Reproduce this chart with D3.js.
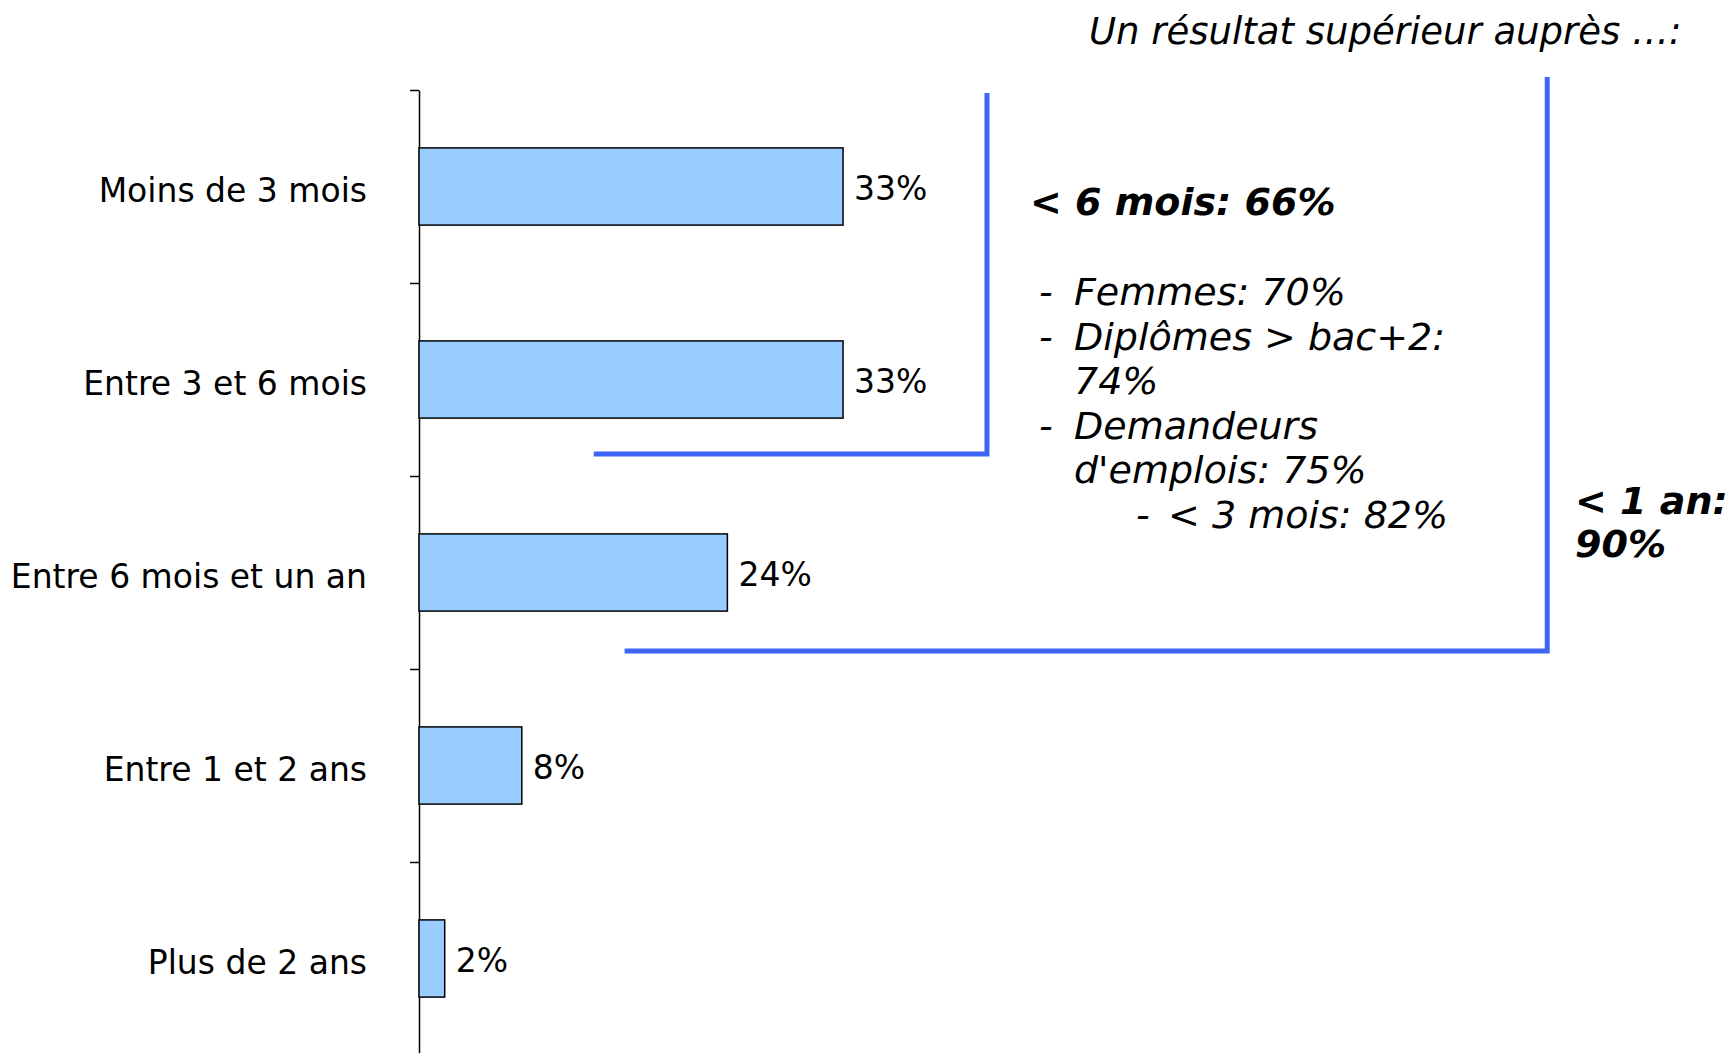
<!DOCTYPE html>
<html lang="fr">
<head>
<meta charset="utf-8">
<title>Durée</title>
<script src="https://d3js.org/d3.v7.min.js"></script>
<style>
  body { margin: 0; background: #fff; }
  svg { display: block; font-family: "DejaVu Sans", Verdana, sans-serif; }
  .lab { font-size: 33px; fill: #000; }
  .note { font-size: 38px; font-style: italic; fill: #000; }
  .head { font-size: 37px; }
  .bold { font-weight: bold; }
  .brace { stroke: #3d66f5; stroke-width: 5; fill: none; }
</style>
</head>
<body>
<script>
// data
var categories = ["Moins de 3 mois", "Entre 3 et 6 mois", "Entre 6 mois et un an", "Entre 1 et 2 ans", "Plus de 2 ans"];
var values = [33, 33, 24, 8, 2];
var valueLabels = ["33%", "33%", "24%", "8%", "2%"];

var headerText = "Un résultat supérieur auprès …:";
var sixMonthsTitle = "< 6 mois: 66%";
var sixMonthsLines = [
  {dash: "-", text: "Femmes: 70%"},
  {dash: "-", text: "Diplômes > bac+2:"},
  {dash: "", text: "74%"},
  {dash: "-", text: "Demandeurs"},
  {dash: "", text: "d'emplois: 75%"},
  {dash: "sub", text: "< 3 mois: 82%"}
];
var oneYearLines = ["< 1 an:", "90%"];

var w = 1728, h = 1053;
var axisX = 419, plotTop = 90, plotBottom = 1055;

var svg = d3.select("body").append("svg").attr("width", w).attr("height", h);
svg.append("rect").attr("width", w).attr("height", h).attr("fill", "white");

// scales
var x = d3.scaleLinear().domain([0, 1]).range([axisX, axisX + 12.85]);
var y = d3.scaleBand().domain(categories).range([plotTop, plotBottom]).paddingInner(0.6).paddingOuter(0.3);
var yEdge = d3.scaleLinear().domain([0, categories.length]).range([plotTop, plotBottom]);

// axis with ticks between categories
var yAxis = d3.axisLeft(yEdge).tickValues(d3.range(0, categories.length + 1)).tickFormat("").tickSize(9).tickSizeOuter(0);
var gAxis = svg.append("g").attr("transform", "translate(" + axisX + ",0)").call(yAxis);
gAxis.select(".domain").attr("stroke", "#000").attr("stroke-width", 1.5);
gAxis.selectAll(".tick line").attr("stroke", "#000").attr("stroke-width", 1.5);

// bars
svg.append("g").selectAll("rect").data(values).enter().append("rect")
  .attr("x", x(0))
  .attr("y", function(d, i) { return y(categories[i]); })
  .attr("width", function(d) { return x(d) - x(0); })
  .attr("height", y.bandwidth())
  .attr("fill", "#99ccff")
  .attr("stroke", "#000")
  .attr("stroke-width", 1.5);

// category labels
svg.append("g").selectAll("text").data(categories).enter().append("text")
  .attr("class", "lab")
  .attr("x", axisX - 52)
  .attr("y", function(d) { return y(d) + y.bandwidth() / 2; })
  .attr("dy", "0.46em")
  .attr("text-anchor", "end")
  .text(function(d) { return d; });

// value labels
svg.append("g").selectAll("text").data(values).enter().append("text")
  .attr("class", "lab")
  .attr("x", function(d) { return x(d) + 11; })
  .attr("y", function(d, i) { return y(categories[i]) + y.bandwidth() / 2; })
  .attr("dy", "0.42em")
  .text(function(d, i) { return valueLabels[i]; });

// brackets
var b1x = x(44.2), b1y = 454;
var b2x = x(87.8), b2y = 651;
svg.append("path").attr("class", "brace")
  .attr("d", "M" + x(13.6) + "," + b1y + "H" + b1x + "V" + 93);
svg.append("path").attr("class", "brace")
  .attr("d", "M" + x(16) + "," + b2y + "H" + b2x + "V" + 77);

// header
svg.append("text").attr("class", "note head").attr("x", 1089).attr("y", 44).text(headerText);

// < 6 mois block
svg.append("text").attr("class", "note bold").attr("x", 1030).attr("y", 215).text(sixMonthsTitle);
var lineH = 44.6;
sixMonthsLines.forEach(function(l, i) {
  var yy = 305 + i * lineH;
  if (l.dash === "-") {
    svg.append("text").attr("class", "note").attr("x", 1039).attr("y", yy).text("-");
    svg.append("text").attr("class", "note").attr("x", 1074).attr("y", yy).text(l.text);
  } else if (l.dash === "sub") {
    svg.append("text").attr("class", "note").attr("x", 1136).attr("y", yy).text("-");
    svg.append("text").attr("class", "note").attr("x", 1168).attr("y", yy).text(l.text);
  } else {
    svg.append("text").attr("class", "note").attr("x", 1074).attr("y", yy).text(l.text);
  }
});

// < 1 an block
oneYearLines.forEach(function(t, i) {
  svg.append("text").attr("class", "note bold").attr("x", 1575).attr("y", 514 + i * 43).text(t);
});
</script>
</body>
</html>
